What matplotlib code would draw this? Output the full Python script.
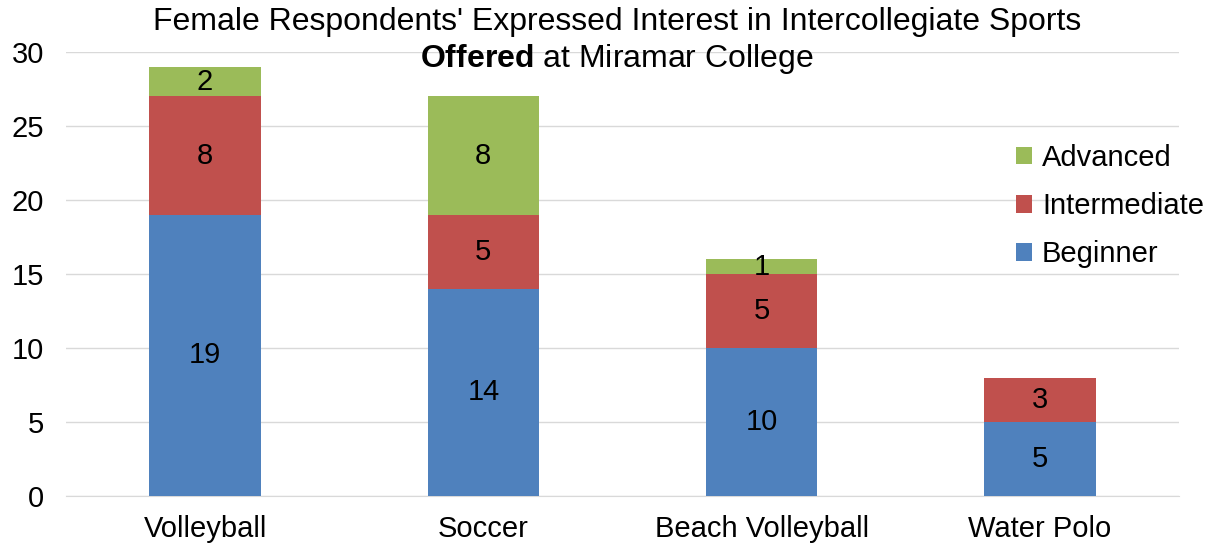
import matplotlib
matplotlib.use("Agg")
import matplotlib.pyplot as plt
import numpy as np

plt.rcParams['font.family'] = ['Liberation Sans', 'DejaVu Sans']
plt.rcParams['mathtext.fontset'] = 'custom'
plt.rcParams['mathtext.rm'] = 'Liberation Sans'
plt.rcParams['mathtext.bf'] = 'Liberation Sans:bold'

categories = ["Volleyball", "Soccer", "Beach Volleyball", "Water Polo"]
beginner = [19, 14, 10, 5]
intermediate = [8, 5, 5, 3]
advanced = [2, 8, 1, 0]
yticks = [0, 5, 10, 15, 20, 25, 30]

c_beg = "#4F81BD"
c_int = "#C0504D"
c_adv = "#9BBB59"

fig = plt.figure(figsize=(12.05, 5.48), dpi=100)
ax = fig.add_axes([66/1205, 1-496/548, (1179-66)/1205, (496-52)/548])

x = np.arange(len(categories))
w = 0.40
b1 = ax.bar(x, beginner, w, color=c_beg, label="Beginner", zorder=3)
b2 = ax.bar(x, intermediate, w, bottom=beginner, color=c_int, label="Intermediate", zorder=3)
bot2 = [a + b for a, b in zip(beginner, intermediate)]
b3 = ax.bar(x, advanced, w, bottom=bot2, color=c_adv, label="Advanced", zorder=3)

fs = 21
for i in range(len(categories)):
    for val, bot in ((beginner[i], 0), (intermediate[i], beginner[i]), (advanced[i], bot2[i])):
        if val > 0:
            ax.text(x[i], bot + val / 2, str(val), ha='center', va='center', fontsize=fs, color='black', zorder=4)

ax.set_xlim(-0.5, len(categories) - 0.5)
ax.set_ylim(0, 30)
ax.set_yticks(yticks)
ax.set_xticks(x)
ax.set_xticklabels(categories, fontsize=fs)
ax.tick_params(axis='y', labelsize=fs, length=0, pad=16)
ax.tick_params(axis='x', length=0, pad=14)
ax.grid(axis='y', color='#D9D9D9', linewidth=1, zorder=0)
for s in ['top', 'right', 'left']:
    ax.spines[s].set_visible(False)
ax.spines['bottom'].set_color('#D9D9D9')

handles = [b3, b2, b1]
labels = ["Advanced", "Intermediate", "Beginner"]
leg = ax.legend(handles, labels, loc='upper left', bbox_to_anchor=((1004 - 66) / (1179 - 66), 1 - (132 - 52) / 444),
                frameon=False, fontsize=fs, handlelength=0.55, handleheight=0.55, handletextpad=0.35,
                labelspacing=0.7, borderaxespad=0)

fig.text(617/1205, 1 - 22/548, "Female Respondents' Expressed Interest in Intercollegiate Sports",
         ha='center', va='center', fontsize=23)
fig.text(617/1205, 1 - 59/548, r"$\mathbf{Offered}$ at Miramar College", ha='center', va='center', fontsize=23)

fig.savefig("out.png", dpi=100)
